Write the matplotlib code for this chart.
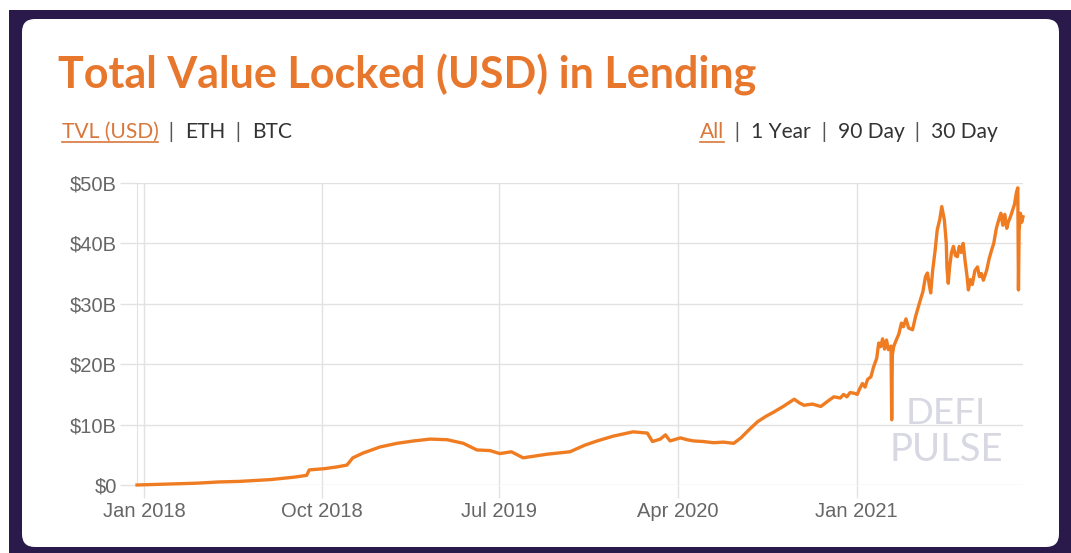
import matplotlib
matplotlib.use("Agg")
import matplotlib.pyplot as plt
import pandas as pd
from matplotlib.patches import FancyBboxPatch, Rectangle
from matplotlib.lines import Line2D

# ---------------- data (TVL in billions USD) ----------------
dates = [
    "2017-12-21", "2018-01-20", "2018-02-20", "2018-03-23", "2018-04-25", "2018-05-28",
    "2018-06-28", "2018-07-15", "2018-08-02", "2018-08-20", "2018-09-08", "2018-09-12",
    "2018-10-05", "2018-10-25", "2018-11-09", "2018-11-18", "2018-12-04", "2018-12-30",
    "2019-01-25", "2019-02-20", "2019-03-17", "2019-04-12", "2019-05-07", "2019-05-28",
    "2019-06-17", "2019-07-02", "2019-07-20", "2019-08-07", "2019-09-13", "2019-10-18",
    "2019-11-10", "2019-11-29", "2019-12-24", "2020-01-23", "2020-02-14", "2020-02-22",
    "2020-03-05", "2020-03-13", "2020-03-20", "2020-04-05", "2020-04-15", "2020-04-25",
    "2020-05-10", "2020-05-26", "2020-06-10", "2020-06-26", "2020-07-07", "2020-07-20",
    "2020-08-02", "2020-08-15", "2020-08-27", "2020-09-10", "2020-09-27", "2020-10-05",
    "2020-10-12", "2020-10-25", "2020-11-07", "2020-11-18", "2020-11-27", "2020-12-07",
    "2020-12-12", "2020-12-17", "2020-12-22", "2020-12-28", "2021-01-02", "2021-01-06",
    "2021-01-10", "2021-01-14", "2021-01-18", "2021-01-23", "2021-01-27", "2021-02-01",
    "2021-02-04", "2021-02-07", "2021-02-10", "2021-02-13", "2021-02-16", "2021-02-19",
    "2021-02-23", "2021-02-24", "2021-02-25", "2021-02-27", "2021-03-03", "2021-03-07",
    "2021-03-11", "2021-03-14", "2021-03-18", "2021-03-22", "2021-03-28", "2021-04-02",
    "2021-04-06", "2021-04-09", "2021-04-13", "2021-04-17", "2021-04-20", "2021-04-23",
    "2021-04-25", "2021-04-28", "2021-05-02", "2021-05-05", "2021-05-09", "2021-05-12",
    "2021-05-14", "2021-05-16", "2021-05-19", "2021-05-20", "2021-05-22", "2021-05-24",
    "2021-05-27", "2021-05-30", "2021-06-02", "2021-06-05", "2021-06-08", "2021-06-11",
    "2021-06-14", "2021-06-17", "2021-06-20", "2021-06-22", "2021-06-25", "2021-06-28",
    "2021-07-02", "2021-07-06", "2021-07-09", "2021-07-12", "2021-07-15", "2021-07-20",
    "2021-07-24", "2021-07-28", "2021-07-31", "2021-08-04", "2021-08-08", "2021-08-11",
    "2021-08-14", "2021-08-17", "2021-08-20", "2021-08-22", "2021-08-26", "2021-08-29",
    "2021-09-01", "2021-09-04", "2021-09-06", "2021-09-07", "2021-09-08", "2021-09-10",
    "2021-09-12", "2021-09-14",
]
tvl_billions = [
    0.0, 0.1, 0.2, 0.3, 0.5, 0.6,
    0.8, 0.9, 1.1, 1.3, 1.6, 2.5,
    2.7, 3.0, 3.3, 4.5, 5.3, 6.3,
    6.9, 7.3, 7.6, 7.5, 6.9, 5.8,
    5.7, 5.2, 5.5, 4.5, 5.1, 5.5,
    6.6, 7.3, 8.1, 8.8, 8.6, 7.2,
    7.6, 8.3, 7.3, 7.8, 7.5, 7.3,
    7.2, 7.0, 7.1, 6.9, 7.8, 9.2,
    10.5, 11.4, 12.1, 13.0, 14.2, 13.6,
    13.2, 13.4, 13.0, 13.9, 14.6, 14.4,
    15.0, 14.6, 15.3, 15.2, 15.0, 16.0,
    16.8, 16.2, 17.5, 17.9, 19.5, 21.0,
    23.5, 22.9, 24.2, 22.5, 24.0, 22.4,
    23.0, 10.8, 21.5, 22.9, 24.0, 25.0,
    26.8, 26.2, 27.5, 26.0, 25.7, 28.0,
    29.5, 30.6, 32.0, 34.5, 35.1, 33.0,
    31.8, 35.5, 39.0, 42.2, 44.0, 46.1,
    45.0, 43.9, 40.0, 36.0, 33.4, 36.0,
    38.5, 39.5, 38.0, 37.8, 39.5, 38.5,
    40.0, 37.0, 34.5, 32.3, 34.0, 33.2,
    35.5, 36.1, 34.5, 35.0, 33.9, 35.5,
    37.5, 39.0, 40.0, 42.5, 44.0, 45.0,
    43.0, 44.8, 42.5, 43.4, 44.5, 45.5,
    46.5, 48.5, 49.2, 32.3, 42.0, 45.0,
    43.5, 44.4,
]
y_ticks = [0, 10, 20, 30, 40, 50]
y_tick_labels = ["$0", "$10B", "$20B", "$30B", "$40B", "$50B"]
x_tick_dates = ["2018-01-01", "2018-10-01", "2019-07-01", "2020-04-01", "2021-01-01"]
x_tick_labels = ["Jan 2018", "Oct 2018", "Jul 2019", "Apr 2020", "Jan 2021"]

title_text = "Total Value Locked (USD) in Lending"
left_menu = [("TVL (USD)", "#d9773a"), ("  |  ", "#555555"), ("ETH", "#333333"),
             ("  |  ", "#555555"), ("BTC", "#333333")]
right_menu = [("All", "#d9773a"), ("  |  ", "#555555"), ("1 Year", "#333333"),
              ("  |  ", "#555555"), ("90 Day", "#333333"), ("  |  ", "#555555"),
              ("30 Day", "#333333")]

# ---------------- figure ----------------
W, H = 1071, 553
fig = plt.figure(figsize=(W / 100, H / 100), dpi=100)
fig.patch.set_facecolor("white")

PURPLE = "#2a1a4b"
fig.patches.append(Rectangle((9 / W, 0), (W - 9) / W, (H - 10) / H,
                             transform=fig.transFigure, facecolor=PURPLE,
                             edgecolor="none", zorder=0))
r = 0.13
cx0, cx1 = 22 / 100, 1059 / 100
cy0, cy1 = (H - 547) / 100, (H - 19) / 100
fig.patches.append(FancyBboxPatch((cx0 + r, cy0 + r), cx1 - cx0 - 2 * r, cy1 - cy0 - 2 * r,
                                  boxstyle=f"round,pad={r},rounding_size={r}",
                                  transform=fig.dpi_scale_trans, facecolor="white",
                                  edgecolor="none", zorder=1))

renderer = fig.canvas.get_renderer()


def ptext(x, y, s, **kw):
    return fig.text(x / W, 1 - y / H, s, **kw)


def fit(t, target_w):
    w = t.get_window_extent(renderer).width
    t.set_fontsize(t.get_fontsize() * target_w / w)


# title
t = ptext(58, 88, title_text, fontsize=20, family="Lato", weight="bold",
          color="#e8772e", va="baseline", ha="left")
fit(t, 697)


def menu(items, x0, total_w, y):
    base = 12
    texts = []
    for s, c in items:
        tt = ptext(0, y, s, fontsize=base, family="Lato", color=c, va="baseline", ha="left")
        texts.append(tt)
    widths = [tt.get_window_extent(renderer).width for tt in texts]
    scale = total_w / sum(widths)
    x = x0
    ext = []
    for tt, w in zip(texts, widths):
        tt.set_fontsize(base * scale)
        tt.set_x(x / W)
        ext.append((x, x + w * scale))
        x += w * scale
    return ext


ext_l = menu(left_menu, 62, 230, 138)
ext_r = menu(right_menu, 700, 298, 138)
for (a, b) in (ext_l[0], ext_r[0]):
    fig.lines.append(Line2D([a / W, b / W], [1 - 142 / H, 1 - 142 / H],
                            transform=fig.transFigure, color="#d9773a", lw=1.2))

# watermark
wm1 = ptext(946, 414, "DEFI", family="Lato", weight="normal", fontsize=20, color="#d7d8e2",
            ha="center", va="center", zorder=2)
fit(wm1, 80)
wm2 = ptext(946, 450, "PULSE", family="Lato", weight="normal", fontsize=20, color="#d7d8e2",
            ha="center", va="center", zorder=2)
fit(wm2, 113)

# ---------------- axes ----------------
ax = fig.add_axes([137 / W, (H - 485) / H, 886 / W, 302 / H])
ax.set_facecolor("none")
ax.set_zorder(3)
d = pd.to_datetime(dates)
GRID = "#e2e2e2"
ax.plot(d, tvl_billions, color="#f07c22", lw=2.4, solid_joinstyle="round",
        clip_on=False, zorder=4)
ax.set_xlim(d[0], d[-1])
ax.set_ylim(0, 50)
ax.set_yticks(y_ticks)
ax.set_yticklabels(y_tick_labels)
ax.set_xticks(pd.to_datetime(x_tick_dates))
ax.set_xticklabels(x_tick_labels)
ax.grid(True, color=GRID, lw=1)
for s in ["top", "right", "bottom"]:
    ax.spines[s].set_visible(False)
ax.spines["left"].set_color(GRID)
ax.tick_params(axis="y", length=12.5, width=1, color=GRID, pad=2,
               labelsize=14.5, labelcolor="#666666")
ax.tick_params(axis="x", length=9, width=1, color=GRID, pad=3,
               labelsize=14.5, labelcolor="#666666")
for lab in ax.get_xticklabels() + ax.get_yticklabels():
    lab.set_family("Liberation Sans")

fig.savefig("out.png", dpi=100)
